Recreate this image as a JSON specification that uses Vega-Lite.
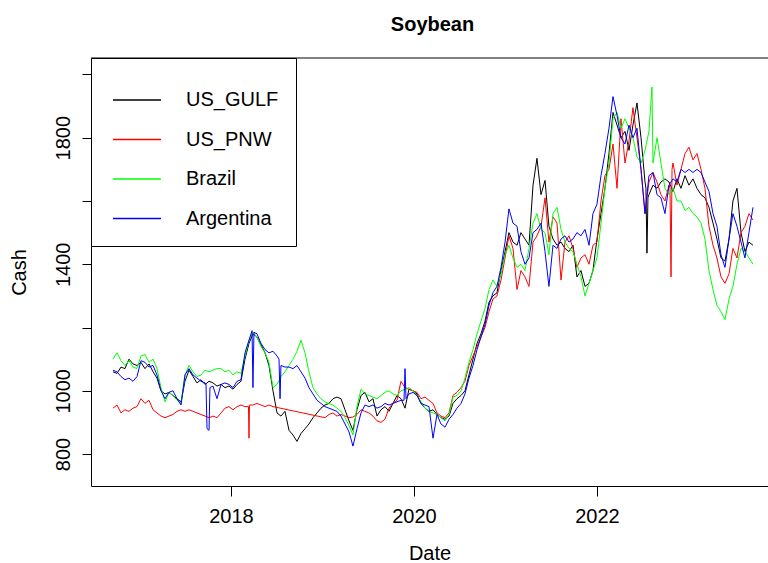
{
"$schema": "https://vega.github.io/schema/vega-lite/v6.json",
"width": 677, "height": 428,
"autosize": {"type": "none"},
"padding": {"left": 91, "top": 58, "right": 0, "bottom": 77},
"background": "white",
"title": {"text": "Soybean", "fontSize": 20, "font": "Liberation Sans", "fontWeight": "bold", "color": "#000", "anchor": "middle", "baseline": "alphabetic", "offset": 7, "dx": 3},
"config": {"view": {"stroke": null}, "axis": {"grid": false, "domainColor": "#000", "tickColor": "#000", "labelColor": "#000", "titleColor": "#000", "labelFont": "Liberation Sans", "titleFont": "Liberation Sans", "labelFontSize": 20, "titleFontSize": 20, "titleFontWeight": "normal", "tickSize": 10, "domainWidth": 1, "tickWidth": 1, "labelOverlap": false}},
"data": {"values": [
{"date":2016.710,"US_GULF":1060,"US_PNW":945,"Brazil":1100,"Argentina":1065},
{"date":2016.754,"US_GULF":1055,"US_PNW":955,"Brazil":1120,"Argentina":1060},
{"date":2016.798,"US_GULF":1075,"US_PNW":930,"Brazil":1095,"Argentina":1045},
{"date":2016.841,"US_GULF":1070,"US_PNW":940,"Brazil":1080,"Argentina":1035},
{"date":2016.885,"US_GULF":1100,"US_PNW":935,"Brazil":1095,"Argentina":1040},
{"date":2016.929,"US_GULF":1085,"US_PNW":945,"Brazil":1075,"Argentina":1030},
{"date":2016.973,"US_GULF":1080,"US_PNW":950,"Brazil":1070,"Argentina":1045},
{"date":2017.016,"US_GULF":1090,"US_PNW":975,"Brazil":1110,"Argentina":1095},
{"date":2017.060,"US_GULF":1070,"US_PNW":960,"Brazil":1115,"Argentina":1090},
{"date":2017.104,"US_GULF":1085,"US_PNW":970,"Brazil":1090,"Argentina":1075},
{"date":2017.148,"US_GULF":1060,"US_PNW":940,"Brazil":1100,"Argentina":1080},
{"date":2017.191,"US_GULF":1040,"US_PNW":930,"Brazil":1070,"Argentina":1050},
{"date":2017.235,"US_GULF":1000,"US_PNW":920,"Brazil":1010,"Argentina":1000},
{"date":2017.279,"US_GULF":990,"US_PNW":915,"Brazil":965,"Argentina":975},
{"date":2017.322,"US_GULF":995,"US_PNW":920,"Brazil":995,"Argentina":995},
{"date":2017.366,"US_GULF":985,"US_PNW":925,"Brazil":985,"Argentina":1000},
{"date":2017.410,"US_GULF":975,"US_PNW":935,"Brazil":970,"Argentina":975},
{"date":2017.454,"US_GULF":965,"US_PNW":940,"Brazil":960,"Argentina":955},
{"date":2017.497,"US_GULF":1030,"US_PNW":935,"Brazil":1050,"Argentina":1050},
{"date":2017.541,"US_GULF":1065,"US_PNW":940,"Brazil":1080,"Argentina":1070},
{"date":2017.585,"US_GULF":1045,"US_PNW":935,"Brazil":1060,"Argentina":1050},
{"date":2017.628,"US_GULF":1025,"US_PNW":930,"Brazil":1045,"Argentina":1040},
{"date":2017.672,"US_GULF":1035,"US_PNW":925,"Brazil":1050,"Argentina":1030},
{"date":2017.716,"US_GULF":1020,"US_PNW":920,"Brazil":1065,"Argentina":1025},
{"date":2017.727,"Argentina":1020},
{"date":2017.738,"Argentina":880},
{"date":2017.760,"US_GULF":1030,"US_PNW":915,"Brazil":1060,"Argentina":875},
{"date":2017.770,"Argentina":1010},
{"date":2017.803,"US_GULF":1025,"US_PNW":920,"Brazil":1065,"Argentina":1015},
{"date":2017.847,"US_GULF":1015,"US_PNW":915,"Brazil":1070,"Argentina":975},
{"date":2017.891,"US_GULF":1020,"US_PNW":930,"Brazil":1070,"Argentina":1020},
{"date":2017.934,"US_GULF":1010,"US_PNW":945,"Brazil":1060,"Argentina":1025},
{"date":2017.978,"US_GULF":1015,"US_PNW":950,"Brazil":1065,"Argentina":1020},
{"date":2018.022,"US_GULF":1005,"US_PNW":940,"Brazil":1050,"Argentina":1010},
{"date":2018.066,"US_GULF":1020,"US_PNW":950,"Brazil":1060,"Argentina":1030},
{"date":2018.109,"US_GULF":1030,"US_PNW":955,"Brazil":1055,"Argentina":1035},
{"date":2018.153,"US_GULF":1100,"US_PNW":950,"Brazil":1110,"Argentina":1120},
{"date":2018.191,"US_PNW":950},
{"date":2018.197,"US_GULF":1150,"US_PNW":850,"Brazil":1160,"Argentina":1160},
{"date":2018.202,"US_PNW":955},
{"date":2018.230,"Argentina":1190},
{"date":2018.240,"US_GULF":1180,"US_PNW":955,"Brazil":1185,"Argentina":1010},
{"date":2018.251,"Argentina":1185},
{"date":2018.284,"US_GULF":1170,"US_PNW":960,"Brazil":1170,"Argentina":1180},
{"date":2018.328,"US_GULF":1145,"US_PNW":955,"Brazil":1140,"Argentina":1150},
{"date":2018.372,"US_GULF":1120,"US_PNW":950,"Brazil":1120,"Argentina":1130},
{"date":2018.415,"US_GULF":1080,"US_PNW":955,"Brazil":1090,"Argentina":1120},
{"date":2018.459,"US_GULF":1000,"US_PNW":950,"Brazil":1010,"Argentina":1125},
{"date":2018.503,"US_GULF":930,"Brazil":1020,"Argentina":1110},
{"date":2018.525,"Argentina":1100},
{"date":2018.536,"Argentina":975},
{"date":2018.546,"US_GULF":920,"Brazil":1045,"Argentina":1080},
{"date":2018.590,"US_GULF":935,"Brazil":1060,"Argentina":1075},
{"date":2018.634,"US_GULF":875,"Brazil":1080,"Argentina":1075},
{"date":2018.678,"US_GULF":860,"Brazil":1100,"Argentina":1070},
{"date":2018.721,"US_GULF":840,"Brazil":1125,"Argentina":1080},
{"date":2018.765,"US_GULF":865,"Brazil":1160,"Argentina":1060},
{"date":2018.809,"US_GULF":880,"Brazil":1120,"Argentina":1040},
{"date":2018.852,"US_GULF":895,"Brazil":1060,"Argentina":1010},
{"date":2018.896,"US_GULF":915,"Brazil":1010,"Argentina":990},
{"date":2018.940,"US_GULF":930,"Brazil":990,"Argentina":970},
{"date":2018.984,"US_GULF":945,"Brazil":975,"Argentina":960},
{"date":2019.027,"US_GULF":955,"US_PNW":915,"Brazil":965,"Argentina":950},
{"date":2019.071,"US_GULF":960,"US_PNW":925,"Brazil":960,"Argentina":945},
{"date":2019.115,"US_GULF":975,"US_PNW":930,"Brazil":955,"Argentina":940},
{"date":2019.158,"US_GULF":980,"US_PNW":920,"Brazil":945,"Argentina":935},
{"date":2019.202,"US_GULF":975,"US_PNW":925,"Brazil":935,"Argentina":920},
{"date":2019.246,"US_GULF":940,"US_PNW":920,"Brazil":915,"Argentina":895},
{"date":2019.290,"US_GULF":905,"US_PNW":915,"Brazil":890,"Argentina":870},
{"date":2019.333,"US_GULF":875,"US_PNW":917,"Brazil":860,"Argentina":825},
{"date":2019.377,"US_GULF":940,"US_PNW":925,"Brazil":950,"Argentina":880},
{"date":2019.421,"US_GULF":985,"US_PNW":940,"Brazil":1005,"Argentina":930},
{"date":2019.464,"US_GULF":995,"US_PNW":935,"Brazil":990,"Argentina":955},
{"date":2019.508,"US_GULF":965,"US_PNW":930,"Brazil":985,"Argentina":950},
{"date":2019.552,"US_GULF":975,"US_PNW":920,"Brazil":980,"Argentina":955},
{"date":2019.596,"US_GULF":920,"US_PNW":905,"Brazil":975,"Argentina":945},
{"date":2019.639,"US_GULF":940,"US_PNW":900,"Brazil":985,"Argentina":950},
{"date":2019.683,"US_GULF":950,"US_PNW":910,"Brazil":995,"Argentina":960},
{"date":2019.727,"US_GULF":935,"US_PNW":945,"Brazil":1000,"Argentina":955},
{"date":2019.770,"US_GULF":960,"US_PNW":960,"Brazil":990,"Argentina":960},
{"date":2019.814,"US_GULF":985,"US_PNW":970,"Brazil":985,"Argentina":965},
{"date":2019.858,"US_GULF":975,"US_PNW":1030,"Brazil":1000,"Argentina":970},
{"date":2019.891,"Argentina":970},
{"date":2019.902,"US_GULF":945,"US_PNW":1010,"Brazil":1005,"Argentina":1070},
{"date":2019.913,"Argentina":975},
{"date":2019.945,"US_GULF":1005,"US_PNW":1005,"Brazil":1010,"Argentina":990},
{"date":2019.989,"US_GULF":1000,"US_PNW":1000,"Brazil":1000,"Argentina":995},
{"date":2020.033,"US_GULF":990,"US_PNW":995,"Brazil":985,"Argentina":985},
{"date":2020.077,"US_GULF":960,"US_PNW":975,"Brazil":965,"Argentina":960},
{"date":2020.120,"US_GULF":945,"US_PNW":980,"Brazil":945,"Argentina":955},
{"date":2020.164,"US_GULF":935,"US_PNW":970,"Brazil":935,"Argentina":950},
{"date":2020.208,"US_GULF":940,"US_PNW":960,"Brazil":930,"Argentina":850},
{"date":2020.251,"US_GULF":925,"US_PNW":930,"Brazil":925,"Argentina":925},
{"date":2020.295,"US_GULF":915,"US_PNW":920,"Brazil":915,"Argentina":895},
{"date":2020.339,"US_GULF":910,"US_PNW":915,"Brazil":905,"Argentina":885},
{"date":2020.383,"US_GULF":920,"US_PNW":930,"Brazil":925,"Argentina":910},
{"date":2020.426,"US_GULF":960,"US_PNW":985,"Brazil":980,"Argentina":925},
{"date":2020.470,"US_GULF":975,"US_PNW":995,"Brazil":985,"Argentina":945},
{"date":2020.514,"US_GULF":985,"US_PNW":1010,"Brazil":1000,"Argentina":960},
{"date":2020.557,"US_GULF":1000,"US_PNW":1030,"Brazil":1040,"Argentina":990},
{"date":2020.601,"US_GULF":1050,"US_PNW":1080,"Brazil":1090,"Argentina":1040},
{"date":2020.645,"US_GULF":1100,"US_PNW":1110,"Brazil":1130,"Argentina":1080},
{"date":2020.689,"US_GULF":1150,"US_PNW":1140,"Brazil":1180,"Argentina":1130},
{"date":2020.732,"US_GULF":1180,"US_PNW":1170,"Brazil":1220,"Argentina":1170},
{"date":2020.776,"US_GULF":1220,"US_PNW":1200,"Brazil":1260,"Argentina":1210},
{"date":2020.820,"US_GULF":1280,"US_PNW":1250,"Brazil":1320,"Argentina":1270},
{"date":2020.863,"US_GULF":1300,"US_PNW":1290,"Brazil":1350,"Argentina":1310},
{"date":2020.907,"US_GULF":1310,"US_PNW":1300,"Brazil":1330,"Argentina":1330},
{"date":2020.951,"US_GULF":1380,"US_PNW":1350,"Brazil":1370,"Argentina":1390},
{"date":2020.995,"US_GULF":1440,"US_PNW":1420,"Brazil":1430,"Argentina":1470},
{"date":2021.038,"US_GULF":1500,"US_PNW":1490,"Brazil":1460,"Argentina":1575},
{"date":2021.082,"US_GULF":1470,"US_PNW":1450,"Brazil":1420,"Argentina":1530},
{"date":2021.126,"US_GULF":1460,"US_PNW":1320,"Brazil":1390,"Argentina":1520},
{"date":2021.169,"US_GULF":1500,"US_PNW":1380,"Brazil":1400,"Argentina":1440},
{"date":2021.213,"US_GULF":1480,"US_PNW":1360,"Brazil":1380,"Argentina":1400},
{"date":2021.257,"US_GULF":1460,"US_PNW":1330,"Brazil":1450,"Argentina":1420},
{"date":2021.301,"US_GULF":1650,"US_PNW":1470,"Brazil":1530,"Argentina":1500},
{"date":2021.344,"US_GULF":1735,"US_PNW":1490,"Brazil":1560,"Argentina":1510},
{"date":2021.388,"US_GULF":1620,"US_PNW":1520,"Brazil":1510,"Argentina":1530},
{"date":2021.432,"US_GULF":1665,"US_PNW":1610,"Brazil":1500,"Argentina":1440},
{"date":2021.475,"US_GULF":1520,"US_PNW":1470,"Brazil":1430,"Argentina":1330},
{"date":2021.519,"US_GULF":1480,"US_PNW":1550,"Brazil":1560,"Argentina":1460},
{"date":2021.563,"US_GULF":1460,"US_PNW":1530,"Brazil":1580,"Argentina":1450},
{"date":2021.607,"US_GULF":1470,"US_PNW":1350,"Brazil":1510,"Argentina":1480},
{"date":2021.650,"US_GULF":1450,"US_PNW":1470,"Brazil":1470,"Argentina":1490},
{"date":2021.694,"US_GULF":1440,"US_PNW":1490,"Brazil":1450,"Argentina":1470},
{"date":2021.738,"US_GULF":1460,"US_PNW":1450,"Brazil":1440,"Argentina":1480},
{"date":2021.781,"US_GULF":1360,"US_PNW":1390,"Brazil":1400,"Argentina":1500},
{"date":2021.825,"US_GULF":1380,"US_PNW":1420,"Brazil":1360,"Argentina":1490},
{"date":2021.869,"US_GULF":1330,"US_PNW":1430,"Brazil":1300,"Argentina":1510},
{"date":2021.913,"US_GULF":1340,"US_PNW":1400,"Brazil":1340,"Argentina":1460},
{"date":2021.956,"US_GULF":1380,"US_PNW":1460,"Brazil":1380,"Argentina":1560},
{"date":2022.000,"US_GULF":1480,"US_PNW":1470,"Brazil":1420,"Argentina":1590},
{"date":2022.044,"US_GULF":1560,"US_PNW":1600,"Brazil":1530,"Argentina":1680},
{"date":2022.087,"US_GULF":1640,"US_PNW":1680,"Brazil":1640,"Argentina":1750},
{"date":2022.131,"US_GULF":1750,"US_PNW":1700,"Brazil":1720,"Argentina":1830},
{"date":2022.175,"US_GULF":1880,"US_PNW":1780,"Brazil":1860,"Argentina":1930},
{"date":2022.219,"US_GULF":1840,"US_PNW":1640,"Brazil":1880,"Argentina":1870},
{"date":2022.262,"US_GULF":1800,"US_PNW":1860,"Brazil":1830,"Argentina":1800},
{"date":2022.306,"US_GULF":1820,"US_PNW":1720,"Brazil":1860,"Argentina":1780},
{"date":2022.350,"US_GULF":1760,"US_PNW":1790,"Brazil":1830,"Argentina":1840},
{"date":2022.393,"US_GULF":1840,"US_PNW":1895,"Brazil":1800,"Argentina":1800},
{"date":2022.437,"US_GULF":1910,"US_PNW":1800,"Brazil":1740,"Argentina":1830},
{"date":2022.481,"US_GULF":1800,"US_PNW":1700,"Brazil":1720,"Argentina":1700},
{"date":2022.525,"US_GULF":1660,"US_PNW":1560,"Brazil":1760,"Argentina":1560},
{"date":2022.535,"US_GULF":1640},
{"date":2022.546,"US_GULF":1435},
{"date":2022.557,"US_GULF":1610},
{"date":2022.568,"US_GULF":1620,"US_PNW":1660,"Brazil":1820,"Argentina":1680},
{"date":2022.601,"Brazil":1960},
{"date":2022.612,"US_GULF":1650,"US_PNW":1690,"Brazil":1720,"Argentina":1690},
{"date":2022.656,"US_GULF":1640,"US_PNW":1660,"Brazil":1800,"Argentina":1620},
{"date":2022.699,"US_GULF":1660,"US_PNW":1620,"Brazil":1720,"Argentina":1610},
{"date":2022.743,"US_GULF":1670,"US_PNW":1600,"Brazil":1640,"Argentina":1560},
{"date":2022.787,"US_GULF":1660,"US_PNW":1650,"Brazil":1620,"Argentina":1650},
{"date":2022.798,"US_PNW":1640},
{"date":2022.809,"US_PNW":1360},
{"date":2022.820,"US_PNW":1700},
{"date":2022.831,"US_GULF":1630,"US_PNW":1720,"Brazil":1640,"Argentina":1670},
{"date":2022.874,"US_GULF":1670,"US_PNW":1650,"Brazil":1600,"Argentina":1660},
{"date":2022.918,"US_GULF":1640,"US_PNW":1700,"Brazil":1600,"Argentina":1700},
{"date":2022.962,"US_GULF":1680,"US_PNW":1750,"Brazil":1570,"Argentina":1690},
{"date":2023.005,"US_GULF":1650,"US_PNW":1770,"Brazil":1580,"Argentina":1700},
{"date":2023.049,"US_GULF":1670,"US_PNW":1730,"Brazil":1560,"Argentina":1690},
{"date":2023.093,"US_GULF":1640,"US_PNW":1750,"Brazil":1550,"Argentina":1700},
{"date":2023.137,"US_GULF":1620,"US_PNW":1700,"Brazil":1530,"Argentina":1690},
{"date":2023.180,"US_GULF":1610,"US_PNW":1640,"Brazil":1480,"Argentina":1660},
{"date":2023.224,"US_GULF":1580,"US_PNW":1520,"Brazil":1380,"Argentina":1630},
{"date":2023.268,"US_GULF":1530,"US_PNW":1460,"Brazil":1320,"Argentina":1560},
{"date":2023.311,"US_GULF":1480,"US_PNW":1420,"Brazil":1270,"Argentina":1520},
{"date":2023.355,"US_GULF":1420,"US_PNW":1360,"Brazil":1250,"Argentina":1430},
{"date":2023.399,"US_GULF":1410,"US_PNW":1340,"Brazil":1225,"Argentina":1390},
{"date":2023.443,"US_GULF":1480,"US_PNW":1370,"Brazil":1290,"Argentina":1480},
{"date":2023.486,"US_GULF":1600,"US_PNW":1450,"Brazil":1330,"Argentina":1560},
{"date":2023.530,"US_GULF":1640,"US_PNW":1420,"Brazil":1400,"Argentina":1520},
{"date":2023.574,"US_GULF":1500,"US_PNW":1500,"Brazil":1450,"Argentina":1470},
{"date":2023.617,"US_GULF":1440,"US_PNW":1520,"Brazil":1440,"Argentina":1420},
{"date":2023.661,"US_GULF":1470,"US_PNW":1560,"Brazil":1420,"Argentina":1500},
{"date":2023.705,"US_GULF":1460,"US_PNW":1540,"Brazil":1400,"Argentina":1580}
]},
"layer": [
{
"transform": [{"fold": ["US_GULF", "US_PNW", "Brazil", "Argentina"], "as": ["series", "price"]}, {"filter": "isValid(datum.price)"}],
"mark": {"type": "line", "strokeWidth": 1, "clip": true},
"encoding": {
"x": {"field": "date", "type": "quantitative", "scale": {"domain": [2016.470, 2023.869], "nice": false, "zero": false},
"axis": {"title": "Date", "values": [2018, 2020, 2022], "format": "d", "labelPadding": 10, "titlePadding": 17, "labelFlush": false}},
"y": {"field": "price", "type": "quantitative", "scale": {"domain": [699, 2052], "nice": false, "zero": false},
"axis": {"title": "Cash", "values": [800, 1000, 1200, 1400, 1600, 1800, 2000], "format": "d", "labelExpr": "datum.value == 800 || datum.value == 1000 || datum.value == 1400 || datum.value == 1800 ? datum.label : ''", "labelAngle": -90, "labelAlign": "center", "labelBaseline": "alphabetic", "labelPadding": 13, "titlePadding": 24, "tickSize": 9, "labelFlush": false}},
"color": {"field": "series", "type": "nominal",
"scale": {"domain": ["US_GULF", "US_PNW", "Brazil", "Argentina"], "range": ["#000000", "#FF0000", "#00FF00", "#0000FF"]},
"legend": {"orient": "none", "legendX": 0, "legendY": 0, "title": null, "direction": "vertical", "symbolType": "stroke", "symbolSize": 2304, "symbolStrokeWidth": 1.5, "labelFontSize": 20, "labelFont": "Liberation Sans", "labelColor": "#000", "padding": 17, "rowPadding": 4.5, "labelOffset": 24, "symbolOffset": 4, "strokeColor": "#000", "fillColor": "#fff", "labelExpr": "datum.label + '\u2003\u2003'"}}
}
},
{
"data": {"values": [{}]},
"mark": {"type": "rule", "color": "#000", "strokeWidth": 1},
"encoding": {"y": {"datum": 2052}}
}
]
}
